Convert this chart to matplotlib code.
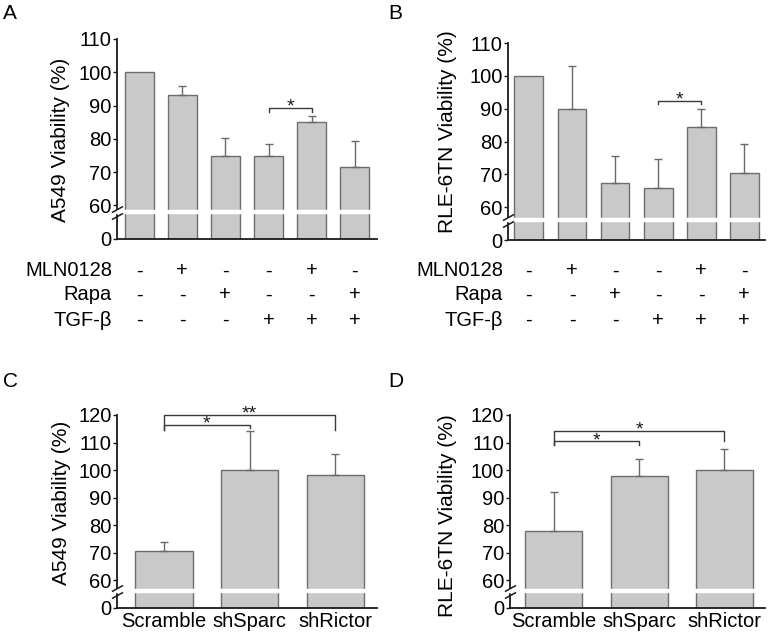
import numpy as np
import matplotlib
matplotlib.use("Agg")
import matplotlib.pyplot as plt
import matplotlib.transforms as mtrans

plt.rcParams['font.family'] = ['Liberation Sans', 'DejaVu Sans']

# panels A/B: treatments
treat_names = ['MLN0128', 'Rapa', 'TGF-β']
treat_signs = [['-', '+', '-', '-', '+', '-'],
               ['-', '-', '+', '-', '-', '+'],
               ['-', '-', '-', '+', '+', '+']]
a549_treat = [100, 93.1, 74.9, 74.9, 85.0, 71.5]
a549_treat_err = [0, 2.9, 5.3, 3.5, 1.9, 7.8]
rle_treat = [100, 89.9, 67.3, 66.0, 84.5, 70.4]
rle_treat_err = [0, 13.1, 8.3, 8.7, 5.5, 8.8]

# panels C/D: knockdowns
sh_names = ['Scramble', 'shSparc', 'shRictor']
a549_sh = [70.8, 100, 98.1]
a549_sh_err = [3.2, 14.1, 7.7]
rle_sh = [77.8, 97.8, 100]
rle_sh_err = [14.4, 6.2, 7.6]

# significance brackets: (i, j, top, left end, right end, label)
sig_a = [(3, 4, 89.2, 88.1, 88.1, '*')]
sig_b = [(3, 4, 92.4, 91.4, 91.4, '*')]
sig_c = [(0, 1, 116.4, 114.7, 115.3, '*'), (0, 2, 119.9, 114.7, 114.7, '**')]
sig_d = [(0, 1, 110.4, 109.2, 109.2, '*'), (0, 2, 114.3, 109.2, 110.5, '*')]

BAR = '#c9c9c9'
EDGE = '#6e6e6e'
INK = '#1a1a1a'
FS = 14.5


def fwd(v):
    v = np.asarray(v, dtype=float)
    return np.where(v < 55, v * 5 / 55, v - 50)


def inv(u):
    u = np.asarray(u, dtype=float)
    return np.where(u < 5, u * 55 / 5, u + 50)


def panel(rect, vals, errs, xlim, ytop, ylab, labcoords, brk, sigs, xlabels=None):
    ax = fig.add_axes(rect)
    x = np.arange(len(vals))
    ax.bar(x, vals, width=0.67, color=BAR, edgecolor=EDGE, linewidth=1, zorder=1)
    e = np.array(errs)
    m = e > 0
    ax.errorbar(x[m], np.array(vals)[m], yerr=[np.zeros(m.sum()), e[m]], fmt='none',
                ecolor='#6a6a6a', elinewidth=1, capsize=3, capthick=1, zorder=2)
    ax.set_yscale('function', functions=(fwd, inv))
    ax.set_xlim(*xlim)
    ax.set_ylim(0, ytop)
    ticks = [0] + list(range(60, ytop + 1, 10))
    ax.set_yticks(ticks)
    ax.set_yticklabels([str(t) for t in ticks])
    ax.yaxis.set_minor_locator(matplotlib.ticker.NullLocator())
    for s in ['top', 'right']:
        ax.spines[s].set_visible(False)
    for s in ['left', 'bottom']:
        ax.spines[s].set_color(INK)
        ax.spines[s].set_linewidth(1.3)
    ax.tick_params(axis='y', length=3, width=1, color=INK, labelsize=FS, pad=1)
    if xlabels is None:
        ax.set_xticks([])
    else:
        ax.set_xticks(x)
        ax.set_xticklabels(xlabels)
        ax.tick_params(axis='x', length=0, labelsize=FS, pad=3)
    ax.set_ylabel(ylab, fontsize=15)
    ax.yaxis.set_label_coords(*labcoords)

    # axis break: white band through bars and spine, plus two slashes
    bt = mtrans.blended_transform_factory(ax.transAxes, ax.transData)
    ax.plot([-0.02, 1], [brk, brk], transform=bt, color='white', lw=3.2,
            solid_capstyle='butt', clip_on=False, zorder=3)
    for dy in (-2.6, 2.6):
        sh = bt + mtrans.ScaledTranslation(0, dy / 72, fig.dpi_scale_trans)
        ax.plot([0], [brk], transform=sh, ls='none',
                marker=[(-1, -0.55), (1, 0.55)], ms=8, mew=1.1, mec=INK,
                clip_on=False, zorder=4)

    for i, j, top, yl, yr, lab in sigs:
        ax.plot([i, i, j, j], [yl, top, top, yr], color='#3a3a3a', lw=1,
                clip_on=False, zorder=4)
        ax.annotate(lab, xy=((i + j) / 2, top), xytext=(0, -5.5),
                    textcoords='offset points', ha='center', va='bottom',
                    fontsize=14, color=INK, annotation_clip=False)
    return ax


fig = plt.figure(figsize=(7.7, 6.42), dpi=100)

ax_a = panel([0.152, 0.628, 0.338, 0.3115], a549_treat, a549_treat_err, (-0.51, 5.52), 110,
             'A549 Viability (%)', (-0.18, 0.495), 58, sig_a)
ax_b = panel([0.660, 0.626, 0.334, 0.307], rle_treat, rle_treat_err, (-0.48, 5.49), 110,
             'RLE-6TN Viability (%)', (-0.20, 0.548), 56, sig_b)
ax_c = panel([0.152, 0.053, 0.338, 0.3006], a549_sh, a549_sh_err, (-0.55, 2.49), 120,
             'A549 Viability (%)', (-0.177, 0.544), 56, sig_c, sh_names)
ax_d = panel([0.662, 0.053, 0.331, 0.3006], rle_sh, rle_sh_err, (-0.52, 2.475), 120,
             'RLE-6TN Viability (%)', (-0.208, 0.48), 56, sig_d, sh_names)

# treatment table under A and B
row_y = [271, 295, 320]
for ax, lab_x in [(ax_a, 112), (ax_b, 503)]:
    tt = mtrans.blended_transform_factory(ax.transData, fig.transFigure)
    for r, name in enumerate(treat_names):
        yf = 1 - row_y[r] / 642
        fig.text(lab_x / 770, yf, name, ha='right', va='center', fontsize=FS)
        for k, s in enumerate(treat_signs[r]):
            ax.text(k, yf, s, transform=tt, ha='center', va='center', fontsize=FS)

for lab, px, py in [('A', 3, 4), ('B', 388, 4), ('C', 3, 372), ('D', 388, 372)]:
    fig.text(px / 770, 1 - py / 642, lab, ha='left', va='top', fontsize=15)

plt.savefig('out.png', dpi=100)
